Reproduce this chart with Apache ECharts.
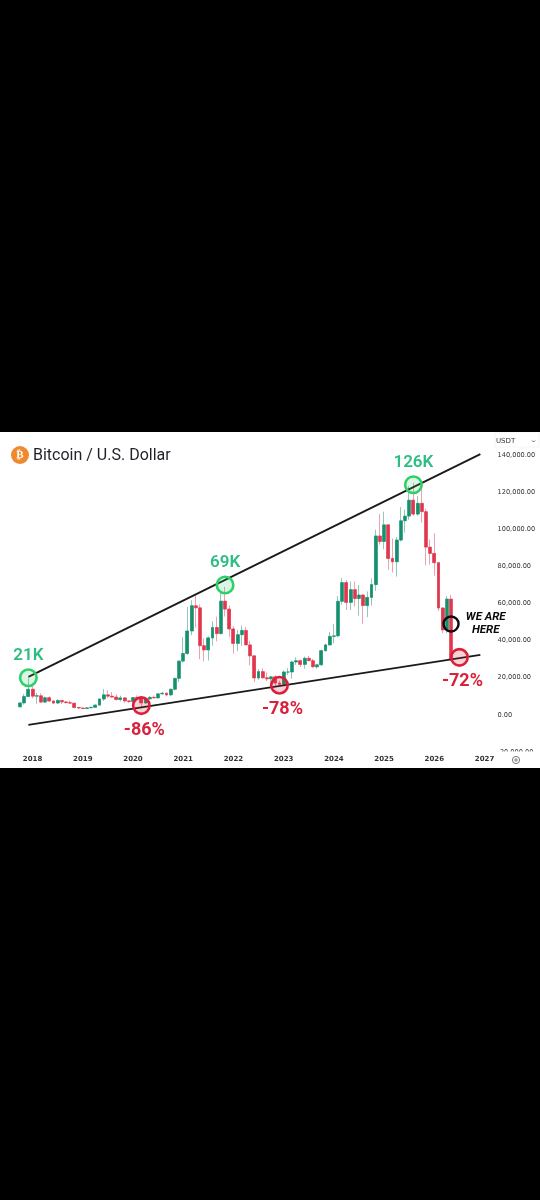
<!DOCTYPE html>
<html><head><meta charset="utf-8">
<style>html,body{margin:0;padding:0;background:#000;width:540px;height:1200px;overflow:hidden}
#c{position:absolute;left:0;top:432px;width:540px;height:336px;background:#fff;filter:blur(0.3px)}</style>
<script src="https://cdn.jsdelivr.net/npm/echarts@6/dist/echarts.min.js"></script>
</head><body><div id="c"></div>
<script>
const title = 'Bitcoin / U.S. Dollar';
const axisMonths = ['2017-06','2017-07','2017-08','2017-09','2017-10','2017-11','2017-12',
'2018-01','2018-02','2018-03','2018-04','2018-05','2018-06','2018-07','2018-08','2018-09','2018-10','2018-11','2018-12',
'2019-01','2019-02','2019-03','2019-04','2019-05','2019-06','2019-07','2019-08','2019-09','2019-10','2019-11','2019-12',
'2020-01','2020-02','2020-03','2020-04','2020-05','2020-06','2020-07','2020-08','2020-09','2020-10','2020-11','2020-12',
'2021-01','2021-02','2021-03','2021-04','2021-05','2021-06','2021-07','2021-08','2021-09','2021-10','2021-11','2021-12',
'2022-01','2022-02','2022-03','2022-04','2022-05','2022-06','2022-07','2022-08','2022-09','2022-10','2022-11','2022-12',
'2023-01','2023-02','2023-03','2023-04','2023-05','2023-06','2023-07','2023-08','2023-09','2023-10','2023-11','2023-12',
'2024-01','2024-02','2024-03','2024-04','2024-05','2024-06','2024-07','2024-08','2024-09','2024-10','2024-11','2024-12',
'2025-01','2025-02','2025-03','2025-04','2025-05','2025-06','2025-07','2025-08','2025-09','2025-10','2025-11','2025-12',
'2026-01','2026-02','2026-03','2026-04','2026-05','2026-06','2026-07','2026-08','2026-09','2026-10','2026-11','2026-12',
'2027-01','2027-02','2027-03'];
const firstCandleIndex = 4; // 2017-10
const opens = [4340,6440,9900,
13800,10100,10300,6900,9250,7490,6390,7730,7000,6600,6300,4000,
3700,3430,3800,4100,5280,8550,10800,10080,9600,8300,9150,7550,
7190,9350,8550,6420,8620,9450,9140,11350,11650,10780,13800,19700,
28990,33100,45200,58800,57700,37300,35000,41500,47100,43800,61300,57000,
46300,38500,43200,45500,37700,31800,19900,23300,20000,19400,20500,17150,
16500,23100,23100,28500,29200,27200,30500,29200,25900,27000,34600,37700,
42300,42600,61200,71300,60600,67500,62700,64600,58900,63300,70200,96400,
93400,102400,84300,82500,94200,104600,107100,115700,108200,114000,109500,90400,
87000,82000,57600,45800,62400];
const closes = [6440,9900,13800,
10100,10300,6900,9250,7490,6390,7730,7000,6600,6300,4000,3700,
3430,3800,4100,5280,8550,10800,10080,9600,8300,9150,7550,7190,
9350,8550,6420,8620,9450,9140,11350,11650,10780,13800,19700,28990,
33100,45200,58800,57700,37300,35000,41500,47100,43800,61300,57000,46300,
38500,43200,45500,37700,31800,19900,23300,20000,19400,20500,17150,16500,
23100,23100,28500,29200,27200,30500,29200,25900,27000,34600,37700,42300,
42600,61200,71300,60600,67500,62700,64600,58900,63300,70200,96400,93400,
102400,84300,82500,94200,104600,107100,115700,108200,114000,109500,90400,87000,
82000,57600,45800,62400,30000];
const lows = [4100,5500,9700,
9000,6000,6400,6400,7000,5750,6070,5880,6200,6200,3500,3200,
3350,3400,3700,4100,5300,7500,9100,9300,7700,7300,6500,6430,
6850,8450,3850,6150,8100,8900,8950,10950,9900,10380,13200,17600,
28100,32300,43000,47000,30000,28800,29300,37300,39600,43300,53000,42000,
32900,34300,37200,37600,26700,17600,18900,19500,18200,18100,15500,16300,
16500,21400,19500,26900,25800,24800,29000,25400,24900,26500,34100,37600,
38500,41900,59300,56500,56500,58400,53500,49000,52600,58900,66800,91800,
89200,78200,76700,74500,93400,98200,105100,107300,107300,103500,80500,81000,
75000,56000,44000,44000,29000];
const highs = [6470,11300,19700,
17200,11800,11700,9800,10000,7700,8450,7410,7400,7700,6500,4200,
4100,4200,4100,5600,9000,13900,13200,12300,10950,10350,9500,7750,
9570,10500,9190,9460,10070,10390,11420,12480,12070,14100,19500,29300,
41900,58300,61800,64900,59500,41300,42300,50500,52900,67000,69000,59000,
47900,45800,48200,47400,40000,31900,24600,25200,22800,21000,21400,18400,
23900,25200,29200,31000,29800,31400,31800,30200,27500,35200,38400,44700,
48900,64000,73700,72700,71900,71900,70000,65000,66500,73600,99800,108300,
109500,102500,95000,95800,112000,110600,123200,125000,117900,126200,111000,94500,
97900,82500,58000,64000,64600];
const upperTrendMonths = ['2017-12','2026-12'];
const upperTrendValues = [20500,140500];
const lowerTrendMonths = ['2017-12','2026-12'];
const lowerTrendValues = [-5400,32300];
const peakNames = ['21K','69K','126K'];
const peakMonths = ['2017-12','2021-11','2025-08'];
const peakValues = [20000,70000,124000];
const troughNames = ['-86%','-78%','-72%'];
const troughMonths = ['2020-03','2022-12','2026-07'];
const troughValues = [5000,16000,31000];
const hereName = 'WE ARE\nHERE';
const hereMonths = ['2026-05'];
const hereValues = [49000];
const priceTicks = {min:-20000,max:150000,interval:20000};

const GREEN='#15906f', RED='#e1364e', GW='#93c8b8', RW='#eba3ad';
const wickData = opens.map((o,i)=>[o,closes[i],lows[i],highs[i]]);
const bodyData = opens.map((o,i)=>[o,closes[i],Math.min(o,closes[i]),Math.max(o,closes[i])]);
const pad = new Array(firstCandleIndex).fill('-');
const font = 'Roboto';
function markerSeries(names,months,values,color,fill,size,pos,dist,labelColor,offset,fs,fw){
  return {type:'scatter',z:6,symbol:'circle',symbolSize:size,silent:true,
    itemStyle:{color:fill,borderColor:color,borderWidth:2.6,opacity:1},
    label:{show:true,position:pos,distance:dist,offset:offset,color:labelColor,fontFamily:font,
      fontSize:fs,fontWeight:fw,formatter:p=>p.name},
    data:months.map((m,i)=>({name:names[i],value:[m,values[i]]}))};
}
const chart = echarts.init(document.getElementById('c'),null,{renderer:'canvas',width:540,height:336});
chart.setOption({
  animation:false,
  backgroundColor:'#fff',
  title:{text:title,left:33,top:16,padding:0,textStyle:{fontFamily:font,fontSize:16,fontWeight:400,color:'#1f2128'}},
  grid:{left:1.17,right:45,top:4.5,bottom:16},
  xAxis:{type:'category',data:axisMonths,boundaryGap:true,
    axisLine:{show:false},axisTick:{show:false},splitLine:{show:false},
    axisLabel:{margin:4,fontSize:7,fontWeight:600,fontFamily:'DejaVu Sans',color:'#333',hideOverlap:false,
      interval:(i,v)=>v.endsWith('-01'),formatter:v=>v.slice(0,4)}},
  yAxis:{type:'value',position:'right',min:priceTicks.min,max:priceTicks.max,interval:priceTicks.interval,
    axisLine:{show:false},axisTick:{show:false},splitLine:{show:false},
    axisLabel:{margin:2.5,fontSize:6.6,fontFamily:'DejaVu Sans',color:'#333',showMaxLabel:false,
      formatter:v=>v.toLocaleString('en-US',{minimumFractionDigits:2,maximumFractionDigits:2})}},
  series:[
    {type:'candlestick',name:'wick',barWidth:2,silent:true,z:2,
     itemStyle:{color:'transparent',color0:'transparent',borderColor:GW,borderColor0:RW,borderWidth:1},
     data:pad.concat(wickData)},
    {type:'candlestick',name:'body',barWidth:3.4,silent:true,z:3,
     itemStyle:{color:GREEN,color0:RED,borderColor:GREEN,borderColor0:RED,borderWidth:0.6},
     data:pad.concat(bodyData)},
    {type:'line',z:4,silent:true,symbol:'none',clip:false,lineStyle:{color:'#1a1a1a',width:1.8},
     data:upperTrendMonths.map((m,i)=>[m,upperTrendValues[i]])},
    {type:'line',z:4,silent:true,symbol:'none',clip:false,lineStyle:{color:'#1a1a1a',width:1.8},
     data:lowerTrendMonths.map((m,i)=>[m,lowerTrendValues[i]])},
    markerSeries(peakNames,peakMonths,peakValues,'#2fd06c','rgba(47,208,108,0.18)',16.5,'top',4,'#2dbd85',[0,0],17,600),
    markerSeries(troughNames,troughMonths,troughValues,'#dc1f38','rgba(220,31,56,0.2)',16.5,'bottom',6,'#d8223c',[3,0],18,700),
    {type:'scatter',z:7,symbol:'circle',symbolSize:15,silent:true,
     itemStyle:{color:'rgba(255,255,255,0)',borderColor:'#0a0a0a',borderWidth:2.4,opacity:1},
     label:{show:true,position:'right',distance:4,offset:[22,0],align:'center',color:'#0a0a0a',fontFamily:font,
       fontSize:11.5,fontWeight:700,fontStyle:'italic',lineHeight:13,formatter:p=>p.name},
     data:hereMonths.map((m,i)=>({name:hereName,value:[m,hereValues[i]]}))}
  ],
  graphic:[
    {type:'circle',z:20,silent:true,shape:{cx:20,cy:23,r:9},style:{fill:'#f0882d'}},
    {type:'text',z:21,silent:true,x:20,y:23,style:{text:'₿',fill:'#fff',fontSize:11,fontWeight:700,fontFamily:'DejaVu Sans',align:'center',verticalAlign:'middle'}},
    {type:'rect',z:20,silent:true,shape:{x:494,y:319.5,width:46,height:17},style:{fill:'#fff'}},
    {type:'rect',z:20,silent:true,shape:{x:495,y:0,width:44,height:15},style:{fill:'#fff',stroke:'#eeeeee',lineWidth:0.6}},
    {type:'text',z:21,silent:true,x:496,y:9,style:{text:'USDT',fill:'#333',fontSize:7,fontFamily:'DejaVu Sans',verticalAlign:'middle'}},
    {type:'polyline',z:21,silent:true,shape:{points:[[532,8.5],[533.5,10],[535,8.5]]},style:{fill:'none',stroke:'#444',lineWidth:0.8}},
    {type:'circle',z:21,silent:true,shape:{cx:516,cy:328,r:3.6},style:{fill:'#fff',stroke:'#555',lineWidth:0.8}},
    {type:'circle',z:21,silent:true,shape:{cx:516,cy:328,r:1.2},style:{fill:'#fff',stroke:'#555',lineWidth:0.8}}
  ]
});
</script></body></html>
